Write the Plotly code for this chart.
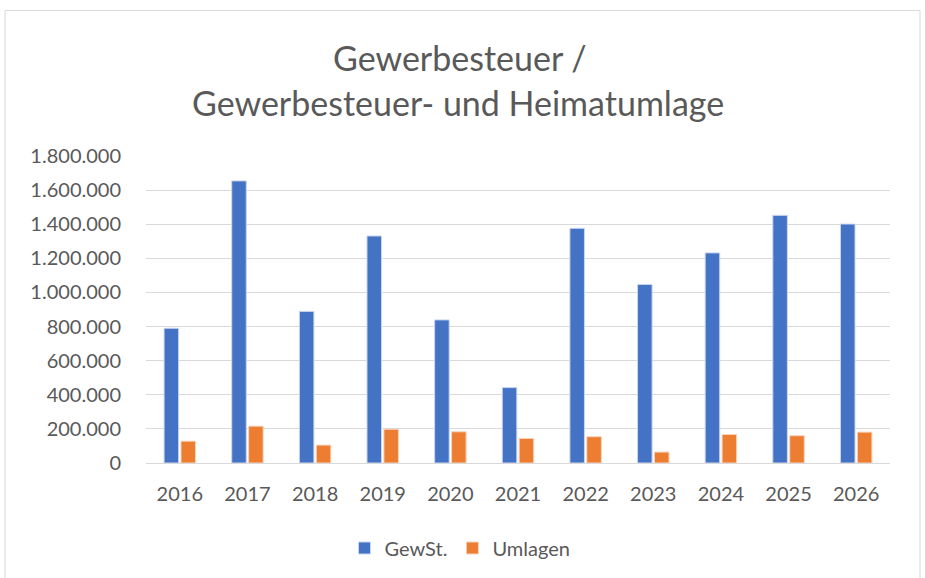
import plotly.graph_objects as go

years = ["2016", "2017", "2018", "2019", "2020", "2021", "2022", "2023", "2024", "2025", "2026"]
gewst = [790000, 1654000, 889000, 1331000, 839000, 442000, 1376000, 1047000, 1232000, 1452000, 1401000]
umlagen = [128000, 216000, 105000, 198000, 183000, 144000, 154000, 64000, 167000, 160000, 181000]
tick_vals = [0, 200000, 400000, 600000, 800000, 1000000, 1200000, 1400000, 1600000, 1800000]

FONT = "Lato"
GREY = "#595959"

# plot-area pixel geometry
L, R, T, B = 146, 890, 156, 464
PW, PH = R - L, B - T

def px(x):
    return (x - L) / PW

def py(y):
    return (B - y) / PH

fig = go.Figure()
fig.add_trace(go.Bar(x=years, y=gewst, name="GewSt.", marker=dict(color="#4472C4", line=dict(color="#c9d6ee", width=1))))
fig.add_trace(go.Bar(x=years, y=umlagen, name="Umlagen", marker=dict(color="#ED7D31", line=dict(color="#f8d3bb", width=1))))

fig.update_layout(
    width=925, height=578,
    margin=dict(l=L, r=925 - R, t=T, b=578 - B),
    paper_bgcolor="white", plot_bgcolor="white",
    separators=",.",
    barmode="group", bargap=0.5, bargroupgap=0.14,
    font=dict(family=FONT, color=GREY, size=20),
    showlegend=True,
    legend=dict(orientation="h", x=px(460), xanchor="center", y=py(548), yanchor="middle",
                font=dict(size=20, color=GREY), traceorder="normal"),
    xaxis=dict(showgrid=False, showline=True, linecolor="#d9d9d9", linewidth=1,
               ticks="", tickfont=dict(size=20, color=GREY), ticklabelstandoff=13),
    yaxis=dict(range=[0, 1800000], tickvals=tick_vals, tickformat=",d",
               showgrid=True, gridcolor="#d9d9d9", gridwidth=1, zeroline=False,
               showline=False, ticks="", tickfont=dict(size=20, color=GREY), ticklabelstandoff=24),
    shapes=[dict(type="rect", xref="paper", yref="paper",
                 x0=px(5), x1=px(920), y0=py(600), y1=py(10),
                 line=dict(color="#d9d9d9", width=1), fillcolor="rgba(0,0,0,0)", layer="below")],
    annotations=[
        dict(text="Gewerbesteuer /", xref="paper", yref="paper", x=px(460), y=py(57),
             showarrow=False, xanchor="center", yanchor="middle", font=dict(size=34, color=GREY, family=FONT)),
        dict(text="Gewerbesteuer- und Heimatumlage", xref="paper", yref="paper", x=px(458), y=py(102),
             showarrow=False, xanchor="center", yanchor="middle", font=dict(size=34, color=GREY, family=FONT)),
    ],
)

fig.write_html("out.html", config={"displayModeBar": False},
               post_script="document.body.style.margin='0';document.body.style.overflow='hidden';")
